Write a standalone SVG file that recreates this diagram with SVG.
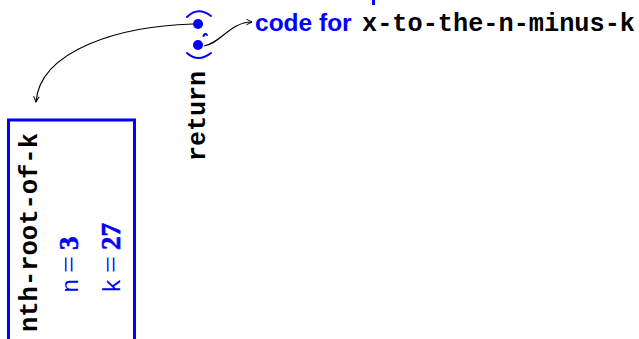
<svg xmlns="http://www.w3.org/2000/svg" width="639" height="339" viewBox="0 0 639 339">
  <style>
    .mono { font-family: "Liberation Mono", "Courier New", monospace; font-weight: bold; font-size: 25px; fill: #000; }
    .sans { font-family: "Liberation Sans", Arial, sans-serif; font-weight: bold; font-size: 24.5px; fill: #0000ff; }
    .num { font-family: "Liberation Serif", "Times New Roman", serif; font-weight: 700; font-size: 27px; fill: #0000ff; stroke: #0000ff; stroke-width: 0.6; }
    .eq { font-family: "Liberation Serif", "Times New Roman", serif; font-weight: 400; font-size: 28px; fill: #0000ff; }
    .var { font-family: "Liberation Mono", "Courier New", monospace; font-size: 24px; fill: #0000ff; }
    .frame { fill: none; stroke: #0000ff; stroke-width: 3; }
    .wire { fill: none; stroke: #000; stroke-width: 1.2; }
    .paren { fill: none; stroke: #0000ff; stroke-width: 2; stroke-linecap: round; }
  </style>
  <defs>
    <marker id="arrow" viewBox="0 0 10 10" refX="9" refY="5" markerWidth="7" markerHeight="7" markerUnits="userSpaceOnUse" orient="auto">
      <path d="M1,1 L9,5 L1,9" fill="none" stroke="#000" stroke-width="1.4"/>
    </marker>
  </defs>

  <!-- clipped label fragment at the top edge -->
  <rect x="372" y="0" width="3" height="5" fill="#0000ff"/>

  <!-- closure pair: (code, environment) -->
  <g id="closure">
    <path class="paren" d="M187,17 Q198,6 211,16"/>
    <circle cx="198" cy="24" r="5" fill="#0000ff"/>
    <path class="paren" d="M203.5,36 Q205,32.5 207,35" stroke-width="1.2"/>
    <circle cx="198" cy="45" r="5" fill="#0000ff"/>
    <path class="paren" d="M187,53 Q198,63 211,53"/>
  </g>

  <!-- label of the pair -->
  <g id="return-label">
    <text class="mono" transform="translate(205,161) rotate(-90)">return</text>
  </g>

  <!-- code pointer target -->
  <g id="code">
    <text x="255" y="31" class="sans">code for</text>
    <text x="362" y="31" class="mono" textLength="273" lengthAdjust="spacingAndGlyphs">x-to-the-n-minus-k</text>
  </g>

  <!-- environment frame -->
  <g id="frame">
    <rect class="frame" x="8.5" y="120" width="126" height="300"/>
    <text class="mono" transform="translate(37,332) rotate(-90)" textLength="199" lengthAdjust="spacingAndGlyphs">nth-root-of-k</text>
    <!-- bindings: n = 3, k = 27 -->
    <g transform="translate(78,293) rotate(-90)">
      <text x="0" y="0" class="var">n</text>
      <text x="20" y="0" class="eq" textLength="17" lengthAdjust="spacingAndGlyphs">=</text>
      <text x="43" y="0" class="num">3</text>
    </g>
    <g transform="translate(120,293) rotate(-90)">
      <text x="0" y="0" class="var">k</text>
      <text x="20" y="0" class="eq" textLength="17" lengthAdjust="spacingAndGlyphs">=</text>
      <text x="43" y="0" class="num">27</text>
    </g>
  </g>

  <!-- connectors -->
  <g id="connectors">
    <path class="wire" d="M193,24 C120,26 40,50 36,102" marker-end="url(#arrow)"/>
    <path class="wire" d="M204,46 C220,44 230,22 252,22" marker-end="url(#arrow)"/>
  </g>
</svg>
